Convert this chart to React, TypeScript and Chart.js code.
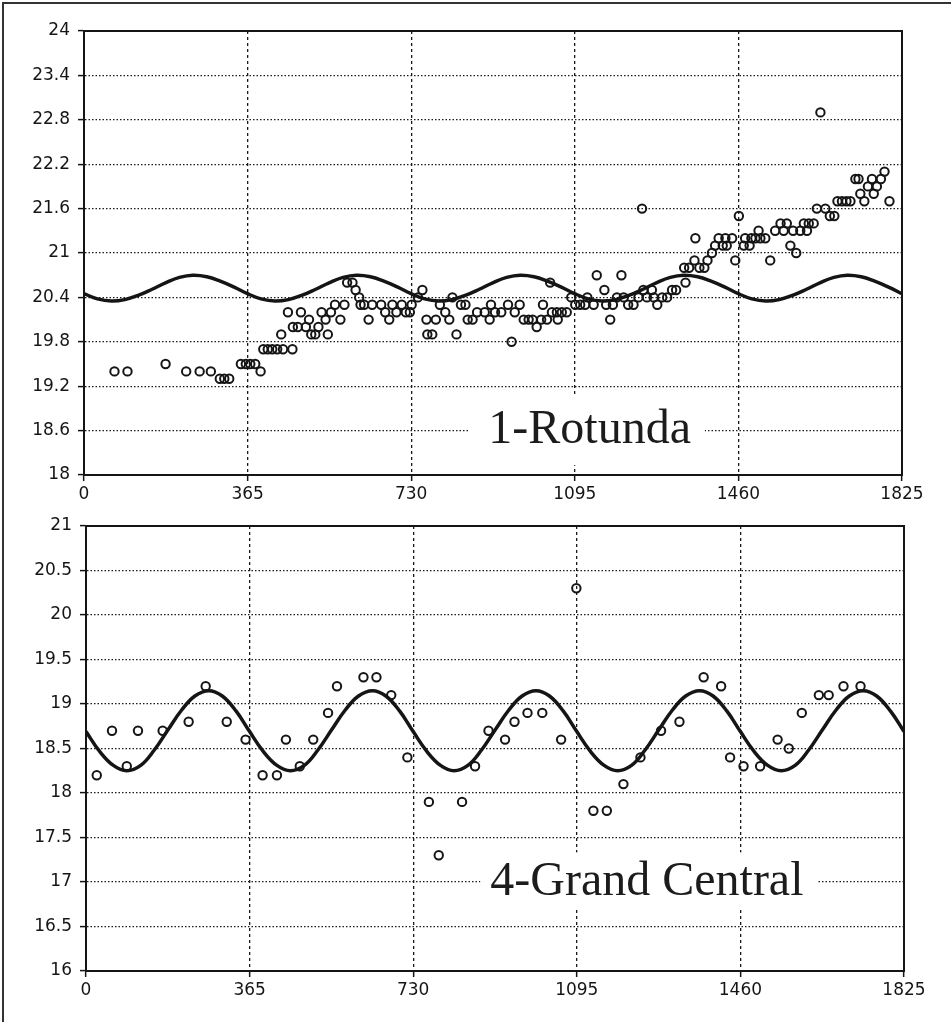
import React, { useEffect, useRef } from "react";
import { Chart, registerables } from "chart.js";

Chart.register(...registerables);

// ---------- shared axis ----------
const xTicks = [0, 365, 730, 1095, 1460, 1825];

// ---------- chart 1: Rotunda ----------
const topYTicks = [18, 18.6, 19.2, 19.8, 20.4, 21, 21.6, 22.2, 22.8, 23.4, 24];
const topObsDays = [
  68, 97, 182, 228, 258, 283, 303, 313, 324, 350, 361, 371, 382, 394, 400, 410, 420, 431, 440, 444,
  455, 465, 466, 477, 484, 495, 502, 507, 516, 523, 530, 539, 544, 551, 560, 572, 581, 587, 599, 606,
  614, 617, 625, 635, 643, 663, 672, 681, 688, 697, 709, 718, 727, 731, 745, 755, 764, 766, 777, 785,
  794, 806, 815, 822, 831, 841, 851, 856, 867, 877, 894, 905, 908, 917, 931, 946, 954, 961, 972, 981,
  992, 1001, 1010, 1020, 1024, 1033, 1040, 1044, 1055, 1057, 1066, 1077, 1087, 1096, 1107, 1118, 1123, 1137, 1144, 1161,
  1165, 1174, 1180, 1189, 1199, 1204, 1214, 1226, 1237, 1245, 1248, 1256, 1267, 1271, 1279, 1290, 1301, 1312, 1321, 1339,
  1342, 1350, 1362, 1364, 1373, 1384, 1391, 1401, 1408, 1416, 1425, 1431, 1434, 1446, 1453, 1461, 1472, 1475, 1485, 1489,
  1498, 1505, 1509, 1520, 1531, 1542, 1554, 1561, 1568, 1576, 1582, 1589, 1598, 1606, 1613, 1617, 1628, 1635, 1643, 1654,
  1664, 1674, 1681, 1691, 1701, 1710, 1721, 1728, 1732, 1741, 1749, 1758, 1762, 1769, 1778, 1786, 1797,
];
const topObsTemps = [
  19.4, 19.4, 19.5, 19.4, 19.4, 19.4, 19.3, 19.3, 19.3, 19.5, 19.5, 19.5, 19.5, 19.4, 19.7, 19.7, 19.7, 19.7, 19.9, 19.7,
  20.2, 19.7, 20.0, 20.0, 20.2, 20.0, 20.1, 19.9, 19.9, 20.0, 20.2, 20.1, 19.9, 20.2, 20.3, 20.1, 20.3, 20.6, 20.6, 20.5,
  20.4, 20.3, 20.3, 20.1, 20.3, 20.3, 20.2, 20.1, 20.3, 20.2, 20.3, 20.2, 20.2, 20.3, 20.4, 20.5, 20.1, 19.9, 19.9, 20.1,
  20.3, 20.2, 20.1, 20.4, 19.9, 20.3, 20.3, 20.1, 20.1, 20.2, 20.2, 20.1, 20.3, 20.2, 20.2, 20.3, 19.8, 20.2, 20.3, 20.1,
  20.1, 20.1, 20.0, 20.1, 20.3, 20.1, 20.6, 20.2, 20.2, 20.1, 20.2, 20.2, 20.4, 20.3, 20.3, 20.3, 20.4, 20.3, 20.7, 20.5,
  20.3, 20.1, 20.3, 20.4, 20.7, 20.4, 20.3, 20.3, 20.4, 21.6, 20.5, 20.4, 20.5, 20.4, 20.3, 20.4, 20.4, 20.5, 20.5, 20.8,
  20.6, 20.8, 20.9, 21.2, 20.8, 20.8, 20.9, 21.0, 21.1, 21.2, 21.1, 21.2, 21.1, 21.2, 20.9, 21.5, 21.1, 21.2, 21.1, 21.2,
  21.2, 21.3, 21.2, 21.2, 20.9, 21.3, 21.4, 21.3, 21.4, 21.1, 21.3, 21.0, 21.3, 21.4, 21.3, 21.4, 21.4, 21.6, 22.9, 21.6,
  21.5, 21.5, 21.7, 21.7, 21.7, 21.7, 22.0, 22.0, 21.8, 21.7, 21.9, 22.0, 21.8, 21.9, 22.0, 22.1, 21.7,
];

// fitted seasonal curves
const curveDays = [
  0, 30, 61, 91, 122, 152, 183, 213, 243, 274, 304, 335,
  365, 395, 426, 456, 487, 517, 548, 578, 608, 639, 669, 700,
  730, 760, 791, 821, 852, 882, 913, 943, 973, 1004, 1034, 1065,
  1095, 1125, 1156, 1186, 1217, 1247, 1278, 1308, 1338, 1369, 1399, 1430,
  1460, 1490, 1521, 1551, 1582, 1612, 1643, 1673, 1703, 1734, 1764, 1795,
  1825,
];
const topCurveTemps = [
  20.45, 20.38, 20.35, 20.37, 20.43, 20.51, 20.6, 20.67, 20.7, 20.68, 20.62, 20.54,
  20.45, 20.38, 20.35, 20.37, 20.43, 20.51, 20.6, 20.67, 20.7, 20.68, 20.62, 20.54,
  20.45, 20.38, 20.35, 20.37, 20.43, 20.51, 20.6, 20.67, 20.7, 20.68, 20.62, 20.54,
  20.45, 20.38, 20.35, 20.37, 20.43, 20.51, 20.6, 20.67, 20.7, 20.68, 20.62, 20.54,
  20.45, 20.38, 20.35, 20.37, 20.43, 20.51, 20.6, 20.67, 20.7, 20.68, 20.62, 20.54,
  20.45,
];

// ---------- chart 2: Grand Central ----------
const botYTicks = [16, 16.5, 17, 17.5, 18, 18.5, 19, 19.5, 20, 20.5, 21];
const botObsDays = [
  24, 58, 91, 116, 171, 229, 267, 314, 356, 394, 426, 446, 477, 507, 540, 560, 619, 648, 681, 717,
  765, 787, 839, 868, 898, 935, 956, 985, 1018, 1060, 1094, 1132, 1162, 1199, 1237, 1283, 1324, 1378, 1417, 1437,
  1467, 1504, 1543, 1568, 1597, 1635, 1657, 1690, 1728,
];
const botObsTemps = [
  18.2, 18.7, 18.3, 18.7, 18.7, 18.8, 19.2, 18.8, 18.6, 18.2, 18.2, 18.6, 18.3, 18.6, 18.9, 19.2, 19.3, 19.3, 19.1, 18.4,
  17.9, 17.3, 17.9, 18.3, 18.7, 18.6, 18.8, 18.9, 18.9, 18.6, 20.3, 17.8, 17.8, 18.1, 18.4, 18.7, 18.8, 19.3, 19.2, 18.4,
  18.3, 18.3, 18.6, 18.5, 18.9, 19.1, 19.1, 19.2, 19.2,
];
const botCurveTemps = [
  18.69, 18.47, 18.31, 18.25, 18.31, 18.48, 18.71, 18.93, 19.09, 19.15, 19.09, 18.92,
  18.69, 18.47, 18.31, 18.25, 18.31, 18.48, 18.71, 18.93, 19.09, 19.15, 19.09, 18.92,
  18.69, 18.47, 18.31, 18.25, 18.31, 18.48, 18.71, 18.93, 19.09, 19.15, 19.09, 18.92,
  18.69, 18.47, 18.31, 18.25, 18.31, 18.48, 18.71, 18.93, 19.09, 19.15, 19.09, 18.92,
  18.69, 18.47, 18.31, 18.25, 18.31, 18.48, 18.71, 18.93, 19.09, 19.15, 19.09, 18.92,
  18.69,
];

const INK = "#151515";
const TICK_FONT = { family: '"DejaVu Sans", Verdana, sans-serif', size: 17 };

type Label = { text: string; day: number; value: number; padL: number; padR: number; padT: number; padB: number };

function makeLabelPlugin(label: Label) {
  return {
    id: "stationLabel",
    beforeDatasetsDraw(chart: any) {
      const { ctx, scales } = chart;
      const px = scales.x.getPixelForValue(label.day);
      const py = scales.y.getPixelForValue(label.value);
      ctx.save();
      ctx.font = '48px "Liberation Serif", "Times New Roman", serif';
      const w = ctx.measureText(label.text).width;
      ctx.fillStyle = "#ffffff";
      ctx.fillRect(px - label.padL, py - label.padT, w + label.padL + label.padR, label.padT + label.padB);
      ctx.fillStyle = "#1c1c1c";
      ctx.textBaseline = "alphabetic";
      ctx.textAlign = "left";
      ctx.fillText(label.text, px, py);
      ctx.restore();
    },
    afterDraw(chart: any) {
      const { ctx, chartArea } = chart;
      ctx.save();
      ctx.setLineDash([]);
      ctx.strokeStyle = INK;
      ctx.lineWidth = 2;
      ctx.strokeRect(chartArea.left, chartArea.top, chartArea.right - chartArea.left, chartArea.bottom - chartArea.top);
      ctx.restore();
    },
  };
}

type Cfg = {
  obsDays: number[];
  obsTemps: number[];
  curveTemps: number[];
  yTicks: number[];
  label: Label;
  yWidth: number;
  xHeight: number;
  padTop: number;
  padRight: number;
};

function buildChart(canvas: HTMLCanvasElement, cfg: Cfg) {
  const obs = cfg.obsDays.map((d, i) => ({ x: d, y: cfg.obsTemps[i] }));
  const curve = curveDays.map((d, i) => ({ x: d, y: cfg.curveTemps[i] }));
  const yMin = cfg.yTicks[0];
  const yMax = cfg.yTicks[cfg.yTicks.length - 1];
  return new Chart(canvas, {
    type: "scatter",
    data: {
      datasets: [
        {
          label: "fit",
          data: curve,
          showLine: true,
          borderColor: INK,
          borderWidth: 3.5,
          pointRadius: 0,
          tension: 0.4,
          fill: false,
          order: 2,
        } as any,
        {
          label: "observed",
          data: obs,
          showLine: false,
          pointRadius: 4.2,
          pointBorderWidth: 2,
          pointBorderColor: INK,
          pointBackgroundColor: "rgba(255,255,255,0)",
          order: 1,
        } as any,
      ],
    },
    options: {
      animation: false,
      responsive: false,
      maintainAspectRatio: false,
      events: [],
      layout: { padding: { left: 0, top: cfg.padTop, right: cfg.padRight, bottom: 0 } },
      plugins: { legend: { display: false }, tooltip: { enabled: false }, title: { display: false } },
      scales: {
        x: {
          type: "linear",
          min: 0,
          max: 1825,
          afterBuildTicks: (s: any) => {
            s.ticks = xTicks.map((v) => ({ value: v }));
          },
          afterFit: (s: any) => {
            s.height = cfg.xHeight;
          },
          ticks: {
            autoSkip: false,
            maxRotation: 0,
            color: INK,
            font: TICK_FONT,
            padding: 3,
            callback: (v: any) => String(v),
          },
          grid: {
            color: "#1a1a1a",
            lineWidth: 1.3,
            drawTicks: true,
            tickLength: 6,
            tickColor: INK,
            tickWidth: 1.5,
            tickBorderDash: [],
          } as any,
          border: { display: true, color: INK, width: 2, dash: [3, 3] },
        },
        y: {
          type: "linear",
          min: yMin,
          max: yMax,
          afterBuildTicks: (s: any) => {
            s.ticks = cfg.yTicks.map((v) => ({ value: v }));
          },
          afterFit: (s: any) => {
            s.width = cfg.yWidth;
          },
          ticks: {
            autoSkip: false,
            color: INK,
            font: TICK_FONT,
            padding: 8,
            callback: (v: any) => String(Number(Number(v).toFixed(1))),
          },
          grid: {
            color: "#1a1a1a",
            lineWidth: 1.2,
            drawTicks: true,
            tickLength: 6,
            tickColor: INK,
            tickWidth: 1.5,
            tickBorderDash: [],
          } as any,
          border: { display: true, color: INK, width: 2, dash: [1.5, 2] },
        },
      },
    } as any,
    plugins: [makeLabelPlugin(cfg.label)],
  });
}

function Panel({ cfg, width, height, top }: { cfg: Cfg; width: number; height: number; top: number }) {
  const ref = useRef<HTMLCanvasElement | null>(null);
  useEffect(() => {
    if (!ref.current) return;
    const chart = buildChart(ref.current, cfg);
    return () => chart.destroy();
  }, []);
  return (
    <canvas
      ref={ref}
      width={width}
      height={height}
      style={{ position: "absolute", left: 0, top, width, height, display: "block" }}
    />
  );
}

const topCfg: Cfg = {
  obsDays: topObsDays,
  obsTemps: topObsTemps,
  curveTemps: topCurveTemps,
  yTicks: topYTicks,
  label: { text: "1-Rotunda", day: 902, value: 18.43, padL: 20, padR: 14, padT: 48, padB: 22 },
  yWidth: 84,
  xHeight: 25,
  padTop: 31,
  padRight: 49,
};

const botCfg: Cfg = {
  obsDays: botObsDays,
  obsTemps: botObsTemps,
  curveTemps: botCurveTemps,
  yTicks: botYTicks,
  label: { text: "4-Grand Central", day: 902, value: 16.85, padL: 10, padR: 14, padT: 43, padB: 12 },
  yWidth: 86,
  xHeight: 51,
  padTop: 26,
  padRight: 47,
};

export default function App() {
  return (
    <div style={{ position: "absolute", left: 0, top: 0, width: 951, height: 1022, background: "#fff", overflow: "hidden" }}>
      <Panel cfg={topCfg} width={951} height={500} top={0} />
      <Panel cfg={botCfg} width={951} height={522} top={500} />
      <div
        style={{
          position: "absolute",
          left: 2,
          top: 2,
          width: 949,
          height: 1020,
          borderLeft: "2px solid #333",
          borderTop: "2px solid #333",
          boxSizing: "border-box",
          pointerEvents: "none",
        }}
      />
    </div>
  );
}
